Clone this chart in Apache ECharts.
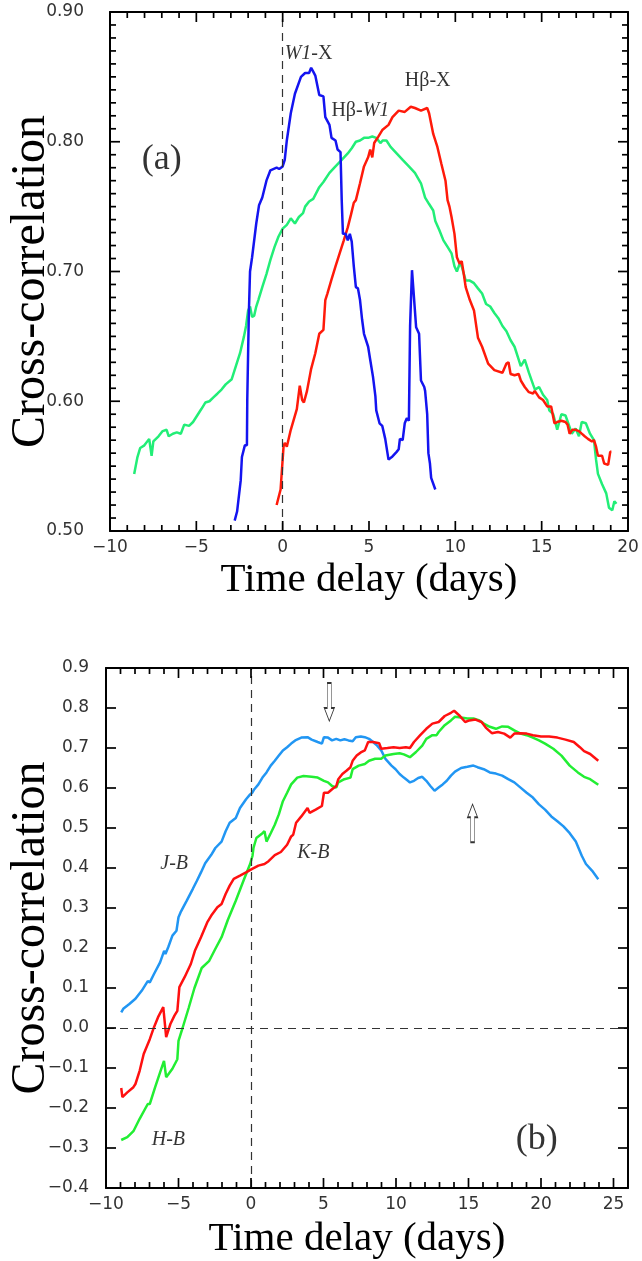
<!DOCTYPE html>
<html>
<head>
<meta charset="utf-8">
<script src="https://cdn.jsdelivr.net/npm/echarts@6/dist/echarts.min.js"></script>
<style>html,body{margin:0;padding:0;background:#fff;}#c{width:642px;height:1261px;}</style>
</head>
<body>
<div id="c"></div>
<script>
const topW1X = [[-2.78,0.508],[-2.64,0.515],[-2.43,0.539],[-2.36,0.557],[-2.3,0.556],[-2.19,0.566],[-2.07,0.566],[-2.05,0.601],[-1.96,0.667],[-1.89,0.700],[-1.77,0.711],[-1.53,0.737],[-1.37,0.751],[-1.18,0.757],[-0.94,0.770],[-0.71,0.778],[-0.35,0.780],[-0.2,0.779],[0.0,0.781],[0.12,0.786],[0.24,0.801],[0.47,0.822],[0.71,0.837],[1.06,0.850],[1.30,0.853],[1.53,0.853],[1.65,0.857],[1.77,0.854],[1.89,0.851],[2.0,0.851],[2.12,0.836],[2.36,0.835],[2.47,0.819],[2.71,0.813],[2.83,0.803],[3.06,0.801],[3.18,0.794],[3.35,0.792],[3.42,0.755],[3.49,0.729],[3.65,0.729],[3.77,0.724],[3.89,0.729],[4.0,0.723],[4.12,0.704],[4.24,0.688],[4.36,0.687],[4.48,0.678],[4.6,0.663],[4.71,0.652],[4.95,0.642],[5.07,0.632],[5.23,0.619],[5.37,0.604],[5.42,0.593],[5.61,0.583],[5.77,0.581],[5.94,0.571],[6.13,0.555],[6.32,0.557],[6.6,0.561],[6.72,0.563],[6.79,0.571],[6.95,0.570],[7.07,0.583],[7.19,0.587],[7.31,0.585],[7.38,0.658],[7.49,0.701],[7.59,0.700],[7.73,0.657],[7.9,0.652],[8.01,0.616],[8.2,0.611],[8.25,0.608],[8.37,0.590],[8.44,0.560],[8.53,0.552],[8.6,0.541],[8.84,0.532]];
const topHbX = [[-0.35,0.520],[-0.12,0.532],[0.05,0.565],[0.12,0.568],[0.24,0.565],[0.47,0.578],[0.82,0.594],[0.99,0.612],[1.13,0.601],[1.23,0.599],[1.41,0.608],[1.65,0.625],[1.89,0.637],[2.12,0.652],[2.36,0.655],[2.47,0.678],[2.59,0.683],[2.83,0.694],[3.06,0.704],[3.3,0.714],[3.54,0.724],[3.77,0.734],[3.96,0.744],[4.12,0.753],[4.24,0.755],[4.48,0.768],[4.71,0.781],[4.95,0.788],[5.07,0.794],[5.19,0.788],[5.3,0.799],[5.54,0.804],[5.77,0.809],[6.13,0.813],[6.36,0.819],[6.72,0.824],[7.07,0.823],[7.42,0.827],[7.66,0.826],[8.01,0.824],[8.37,0.826],[8.48,0.822],[8.72,0.806],[8.96,0.796],[9.19,0.783],[9.43,0.770],[9.55,0.755],[9.66,0.750],[9.78,0.742],[9.95,0.729],[10.09,0.711],[10.25,0.706],[10.37,0.708],[10.49,0.698],[10.6,0.688],[10.84,0.678],[11.08,0.670],[11.31,0.649],[11.55,0.642],[11.9,0.629],[12.26,0.624],[12.73,0.622],[12.96,0.629],[13.08,0.630],[13.2,0.621],[13.43,0.620],[13.67,0.621],[13.79,0.616],[14.02,0.611],[14.26,0.607],[14.5,0.606],[14.6,0.608],[14.85,0.603],[15.08,0.601],[15.32,0.596],[15.55,0.596],[15.74,0.583],[15.9,0.584],[16.14,0.585],[16.38,0.584],[16.5,0.582],[16.62,0.575],[16.78,0.578],[16.97,0.578],[17.16,0.577],[17.32,0.575],[17.49,0.573],[17.68,0.571],[17.91,0.569],[18.03,0.570],[18.15,0.565],[18.26,0.558],[18.5,0.558],[18.62,0.552],[18.85,0.551],[18.97,0.561],[19.04,0.561]];
const topHbW1 = [[-8.6,0.544],[-8.41,0.557],[-8.25,0.564],[-8.01,0.566],[-7.73,0.571],[-7.59,0.558],[-7.49,0.569],[-7.19,0.573],[-6.95,0.577],[-6.72,0.578],[-6.6,0.573],[-6.36,0.575],[-6.13,0.576],[-5.9,0.575],[-5.7,0.582],[-5.42,0.581],[-5.19,0.584],[-4.95,0.589],[-4.71,0.594],[-4.48,0.599],[-4.24,0.600],[-4.01,0.603],[-3.77,0.606],[-3.54,0.609],[-3.3,0.613],[-2.95,0.617],[-2.71,0.627],[-2.47,0.637],[-2.24,0.650],[-2.12,0.658],[-2.0,0.670],[-1.89,0.673],[-1.77,0.665],[-1.65,0.666],[-1.53,0.673],[-1.41,0.678],[-1.18,0.688],[-0.94,0.698],[-0.71,0.709],[-0.47,0.719],[-0.24,0.727],[0.0,0.733],[0.24,0.736],[0.47,0.741],[0.71,0.737],[0.94,0.742],[1.18,0.745],[1.3,0.750],[1.53,0.754],[1.77,0.756],[2.12,0.765],[2.36,0.769],[2.71,0.776],[3.06,0.781],[3.42,0.786],[3.77,0.791],[4.0,0.795],[4.24,0.800],[4.48,0.801],[4.71,0.803],[4.95,0.803],[5.19,0.804],[5.42,0.803],[5.66,0.799],[5.8,0.801],[6.01,0.801],[6.25,0.796],[6.6,0.791],[6.95,0.786],[7.31,0.781],[7.66,0.776],[8.01,0.768],[8.25,0.757],[8.48,0.752],[8.72,0.747],[8.84,0.739],[9.07,0.732],[9.31,0.724],[9.55,0.719],[9.78,0.714],[9.95,0.704],[10.09,0.700],[10.25,0.706],[10.37,0.704],[10.6,0.693],[10.84,0.693],[11.08,0.691],[11.31,0.687],[11.55,0.683],[11.78,0.675],[12.02,0.673],[12.26,0.668],[12.49,0.664],[12.73,0.658],[12.96,0.654],[13.2,0.647],[13.43,0.642],[13.67,0.632],[13.79,0.627],[14.02,0.632],[14.26,0.622],[14.5,0.613],[14.61,0.609],[14.85,0.611],[15.08,0.605],[15.32,0.601],[15.44,0.593],[15.67,0.590],[15.9,0.578],[16.14,0.590],[16.38,0.589],[16.62,0.580],[16.74,0.575],[16.97,0.579],[17.16,0.573],[17.32,0.584],[17.56,0.583],[17.8,0.575],[18.03,0.570],[18.15,0.555],[18.26,0.544],[18.5,0.536],[18.74,0.529],[18.9,0.518],[19.09,0.516],[19.21,0.523],[19.33,0.521]];

const botJB = [[-8.95,0.039],[-8.81,0.048],[-8.39,0.06],[-7.97,0.073],[-7.54,0.093],[-7.12,0.117],[-6.98,0.114],[-6.69,0.135],[-6.27,0.164],[-5.99,0.193],[-5.9,0.185],[-5.71,0.202],[-5.42,0.231],[-5.14,0.243],[-5.0,0.277],[-4.86,0.289],[-4.44,0.318],[-4.01,0.348],[-3.73,0.368],[-3.45,0.389],[-3.16,0.412],[-2.74,0.433],[-2.46,0.45],[-2.03,0.466],[-1.75,0.492],[-1.47,0.513],[-1.05,0.525],[-0.76,0.55],[-0.34,0.572],[-0.06,0.584],[0.08,0.588],[0.23,0.597],[0.51,0.609],[0.79,0.626],[1.07,0.639],[1.36,0.656],[1.64,0.668],[1.92,0.681],[2.2,0.694],[2.49,0.702],[2.77,0.711],[3.05,0.719],[3.47,0.726],[3.9,0.727],[4.18,0.721],[4.6,0.715],[4.89,0.711],[5.03,0.727],[5.31,0.726],[5.59,0.719],[5.88,0.723],[6.16,0.719],[6.44,0.722],[6.72,0.719],[7.01,0.717],[7.23,0.727],[7.57,0.729],[7.85,0.727],[8.14,0.723],[8.42,0.715],[8.7,0.706],[8.98,0.694],[9.27,0.673],[9.69,0.656],[9.97,0.647],[10.25,0.635],[10.54,0.626],[10.82,0.618],[10.96,0.614],[11.24,0.618],[11.53,0.625],[11.81,0.628],[12.09,0.618],[12.37,0.605],[12.66,0.593],[12.94,0.601],[13.22,0.609],[13.5,0.618],[13.79,0.631],[14.07,0.641],[14.49,0.65],[14.92,0.653],[15.34,0.656],[15.62,0.652],[16.05,0.647],[16.47,0.639],[16.89,0.636],[17.32,0.631],[17.74,0.622],[18.16,0.614],[18.59,0.601],[19.01,0.588],[19.44,0.576],[19.86,0.559],[20.28,0.546],[20.71,0.529],[21.13,0.517],[21.55,0.504],[21.98,0.487],[22.4,0.466],[22.82,0.43],[23.1,0.41],[23.53,0.393],[23.95,0.372]];
const botKB = [[-8.95,-0.15],[-8.87,-0.173],[-8.53,-0.161],[-8.11,-0.148],[-7.97,-0.14],[-7.68,-0.107],[-7.4,-0.065],[-6.98,-0.028],[-6.69,0.002],[-6.41,0.027],[-6.05,0.052],[-5.85,-0.023],[-5.56,0.01],[-5.28,0.031],[-5.08,0.043],[-4.94,0.102],[-4.58,0.127],[-4.15,0.16],[-3.87,0.193],[-3.45,0.227],[-3.02,0.264],[-2.74,0.281],[-2.32,0.302],[-2.03,0.31],[-1.75,0.335],[-1.47,0.356],[-1.19,0.373],[-0.76,0.381],[-0.34,0.389],[0.08,0.398],[0.51,0.406],[0.93,0.41],[1.21,0.417],[1.64,0.432],[2.06,0.44],[2.49,0.458],[2.77,0.479],[2.91,0.483],[3.11,0.513],[3.47,0.529],[3.9,0.55],[4.04,0.538],[4.46,0.546],[4.89,0.555],[5.03,0.588],[5.31,0.588],[5.59,0.597],[5.88,0.605],[6.02,0.622],[6.3,0.635],[6.58,0.643],[6.86,0.652],[7.01,0.668],[7.29,0.681],[7.57,0.689],[7.85,0.694],[8.08,0.715],[8.42,0.715],[8.84,0.712],[8.98,0.698],[9.41,0.70],[9.83,0.702],[10.25,0.70],[10.68,0.702],[10.96,0.70],[11.24,0.715],[11.67,0.732],[12.09,0.748],[12.51,0.761],[12.94,0.765],[13.36,0.78],[13.79,0.788],[14.01,0.793],[14.35,0.782],[14.77,0.765],[15.06,0.769],[15.48,0.771],[15.9,0.765],[16.19,0.751],[16.61,0.737],[17.03,0.74],[17.46,0.736],[17.88,0.726],[18.16,0.736],[18.59,0.737],[19.01,0.736],[19.44,0.732],[20.0,0.729],[20.56,0.729],[21.13,0.726],[21.69,0.721],[22.26,0.715],[22.68,0.702],[22.97,0.692],[23.39,0.685],[23.95,0.668]];
const botHB = [[-8.95,-0.28],[-8.53,-0.273],[-8.11,-0.258],[-7.68,-0.227],[-7.12,-0.19],[-6.98,-0.19],[-6.61,-0.148],[-6.27,-0.111],[-6.0,-0.082],[-5.85,-0.123],[-5.42,-0.102],[-5.08,-0.078],[-5.0,-0.032],[-4.72,0.0],[-4.3,0.05],[-3.9,0.1],[-3.4,0.15],[-2.88,0.168],[-2.5,0.195],[-2.03,0.227],[-1.6,0.27],[-1.05,0.318],[-0.5,0.37],[-0.06,0.41],[0.1,0.43],[0.17,0.45],[0.37,0.475],[0.79,0.487],[0.93,0.492],[1.07,0.466],[1.36,0.487],[1.64,0.508],[1.92,0.534],[2.2,0.567],[2.49,0.588],[2.77,0.609],[3.19,0.626],[3.62,0.63],[4.18,0.628],[4.6,0.626],[5.03,0.618],[5.31,0.614],[5.59,0.605],[5.88,0.601],[6.02,0.614],[6.44,0.622],[6.86,0.626],[7.01,0.647],[7.43,0.656],[7.85,0.66],[8.14,0.668],[8.56,0.673],[8.98,0.673],[9.27,0.681],[9.83,0.685],[10.25,0.687],[10.54,0.684],[10.96,0.677],[11.38,0.69],[11.81,0.706],[12.09,0.723],[12.51,0.732],[12.8,0.732],[12.94,0.74],[13.36,0.757],[13.79,0.769],[14.07,0.778],[14.49,0.776],[14.92,0.774],[15.34,0.774],[15.76,0.769],[16.05,0.761],[16.47,0.753],[16.89,0.748],[17.32,0.754],[17.74,0.753],[18.16,0.744],[18.59,0.736],[19.01,0.732],[19.44,0.726],[19.86,0.719],[20.28,0.711],[20.85,0.698],[21.41,0.681],[21.98,0.656],[22.54,0.639],[22.97,0.628],[23.39,0.622],[23.95,0.608]];

const topLabels = [
  {pos:[1.5,0.868], text:'{i|W1}{n|-X}'},
  {pos:[4.5,0.824], text:'{n|Hβ-}{i|W1}'},
  {pos:[8.4,0.847], text:'{n|Hβ-X}'},
  {pos:[-7.0,0.786], text:'{big|(a)}'}
];
const botLabels = [
  {pos:[-5.3,0.41], text:'{i|J-B}'},
  {pos:[4.3,0.437], text:'{i|K-B}'},
  {pos:[-5.7,-0.28], text:'{i|H-B}'},
  {pos:[19.7,-0.28], text:'{big|(b)}'}
];
const arrowsDown = [[5.4,0.815]];
const arrowsUp = [[15.28,0.512]];

// tick settings: major interval and number of minor divisions
const topXTicks = {min:-10, max:20, interval:5, minor:5};
const topYTicks = {min:0.5, max:0.9, interval:0.1, minor:10};
const botXTicks = {min:-10, max:26, interval:5, minor:5};
const botYTicks = {min:-0.4, max:0.9, interval:0.1, minor:1};

const minus = v => (v < 0 ? '\u2212' + String(Math.abs(v)) : String(v));
const fmtY = d => v => (v < 0 ? '\u2212' + Math.abs(v).toFixed(d) : v.toFixed(d));

const G = [
  {left:110, right:14, top:12, height:519},
  {left:106, right:14, top:668, height:520}
];

const tickFont = {fontFamily:'DejaVu Sans', fontSize:17, color:'#333'};
const rich = {
  i:{fontFamily:'Liberation Serif', fontStyle:'italic', fontSize:20, color:'#000'},
  n:{fontFamily:'Liberation Serif', fontSize:20, color:'#000'},
  big:{fontFamily:'Liberation Serif', fontSize:36, color:'#000'}
};
const blackLine = {show:true, onZero:false, lineStyle:{color:'#000', width:2}};

function frameAxis(grid, t, pos, opts) {
  return Object.assign({
    type:'value', gridIndex:grid, position:pos, min:t.min, max:t.max, interval:t.interval,
    axisLine:blackLine, axisTick:{show:false}, minorTick:{show:false},
    splitLine:{show:false}, minorSplitLine:{show:false}, axisLabel:{show:false}
  }, opts || {});
}
function xLabelOpts(t, gap, pad) {
  return {
    axisLabel:Object.assign({show:true, margin:8, formatter:minus, showMaxLabel:t.max % t.interval === 0}, tickFont),
    name:'Time delay (days)', nameLocation:'middle', nameGap:gap, nameMoveOverlap:false,
    nameTextStyle:{fontFamily:'Liberation Serif', fontSize:41, color:'#000', padding:pad}
  };
}
function yLabelOpts(dec, margin, gap, pad) {
  return {
    axisLabel:Object.assign({show:true, margin:margin, formatter:fmtY(dec)}, tickFont),
    name:'Cross-correlation', nameLocation:'middle', nameGap:gap, nameMoveOverlap:false,
    nameTextStyle:{fontFamily:'Liberation Serif', fontSize:48, color:'#000', padding:pad}
  };
}

// inward ticks on all four frame edges, positioned through the axes' own scales
function tickItems(xt, yt) {
  const out = [];
  const nx = Math.round((xt.max - xt.min) / (xt.interval / xt.minor));
  for (let k = 1; k < nx; k++) {
    const v = xt.min + k * xt.interval / xt.minor;
    const len = (k % xt.minor === 0) ? 10 : 6;
    out.push([v, yt.min, 0, -len], [v, yt.max, 0, len]);
  }
  const ny = Math.round((yt.max - yt.min) / (yt.interval / yt.minor));
  for (let k = 1; k < ny; k++) {
    const v = yt.min + k * yt.interval / yt.minor;
    const len = (k % yt.minor === 0) ? 10 : 6;
    out.push([xt.min, v, len, 0], [xt.max, v, -len, 0]);
  }
  return out;
}
function tickSeries(xt, yt, xi, yi) {
  return {
    type:'custom', coordinateSystem:'cartesian2d', xAxisIndex:xi, yAxisIndex:yi,
    data:tickItems(xt, yt), encode:{x:0, y:1}, silent:true, clip:false, animation:false, z:10,
    renderItem:function (params, api) {
      const p = api.coord([api.value(0), api.value(1)]);
      return {type:'line', shape:{x1:p[0], y1:p[1], x2:p[0] + api.value(2), y2:p[1] + api.value(3)},
              style:{stroke:'#000', lineWidth:1.7}};
    }
  };
}

function lineSeries(data, color, xi, yi, extra) {
  return Object.assign({
    type:'line', data:data, xAxisIndex:xi, yAxisIndex:yi, showSymbol:false, symbol:'none',
    lineStyle:{color:color, width:2.5}, z:3, animation:false, clip:true
  }, extra || {});
}
function dashed(list) {
  return {silent:true, symbol:'none', label:{show:false},
    lineStyle:{type:[8,6], color:'#333', width:1.2}, data:list, animation:false};
}
function labelSeries(list, xi, yi) {
  return {
    type:'scatter', xAxisIndex:xi, yAxisIndex:yi, symbolSize:0, animation:false, silent:true, z:5,
    data:list.map(l => ({value:l.pos, label:{show:true, position:'inside', formatter:l.text, rich:rich}}))
  };
}
const arrowPath = 'path://M3,0 L7,0 L7,25 L10,25 L5,38 L0,25 L3,25 Z';
function arrowSeries(data, rot) {
  return {
    type:'scatter', xAxisIndex:2, yAxisIndex:2, data:data, symbol:arrowPath, symbolSize:[10,38],
    symbolRotate:rot, itemStyle:{color:'#fff', borderColor:'#000', borderWidth:1}, animation:false, silent:true, z:6
  };
}

const chart = echarts.init(document.getElementById('c'), null, {renderer:'canvas'});
chart.setOption({
  backgroundColor:'#fff',
  animation:false,
  grid:G.map(g => Object.assign({outerBoundsMode:'none', containLabel:false}, g)),
  xAxis:[
    frameAxis(0, topXTicks, 'bottom', xLabelOpts(topXTicks, 29, [0, 0, 0, 0])),
    frameAxis(0, topXTicks, 'top'),
    frameAxis(1, botXTicks, 'bottom', xLabelOpts(botXTicks, 31, [0, 20, 0, 0])),
    frameAxis(1, botXTicks, 'top')
  ],
  yAxis:[
    frameAxis(0, topYTicks, 'left', yLabelOpts(2, 26, 55, [0, 20, 0, 0])),
    frameAxis(0, topYTicks, 'right'),
    frameAxis(1, botYTicks, 'left', yLabelOpts(1, 17, 51, [0, 0, 0, 0])),
    frameAxis(1, botYTicks, 'right')
  ],
  series:[
    lineSeries(topHbW1, '#22ee77', 0, 0, {markLine:dashed([{xAxis:0}])}),
    lineSeries(topHbX, '#ff1a0a', 0, 0),
    lineSeries(topW1X, '#1414f0', 0, 0),
    labelSeries(topLabels, 0, 0),
    tickSeries(topXTicks, topYTicks, 0, 0),
    lineSeries(botJB, '#2196f3', 2, 2, {markLine:dashed([{xAxis:0},{yAxis:0}])}),
    lineSeries(botHB, '#22ee33', 2, 2),
    lineSeries(botKB, '#ff1010', 2, 2),
    labelSeries(botLabels, 2, 2),
    tickSeries(botXTicks, botYTicks, 2, 2),
    arrowSeries(arrowsDown, 0),
    arrowSeries(arrowsUp, 180)
  ]
});
</script>
</body>
</html>
